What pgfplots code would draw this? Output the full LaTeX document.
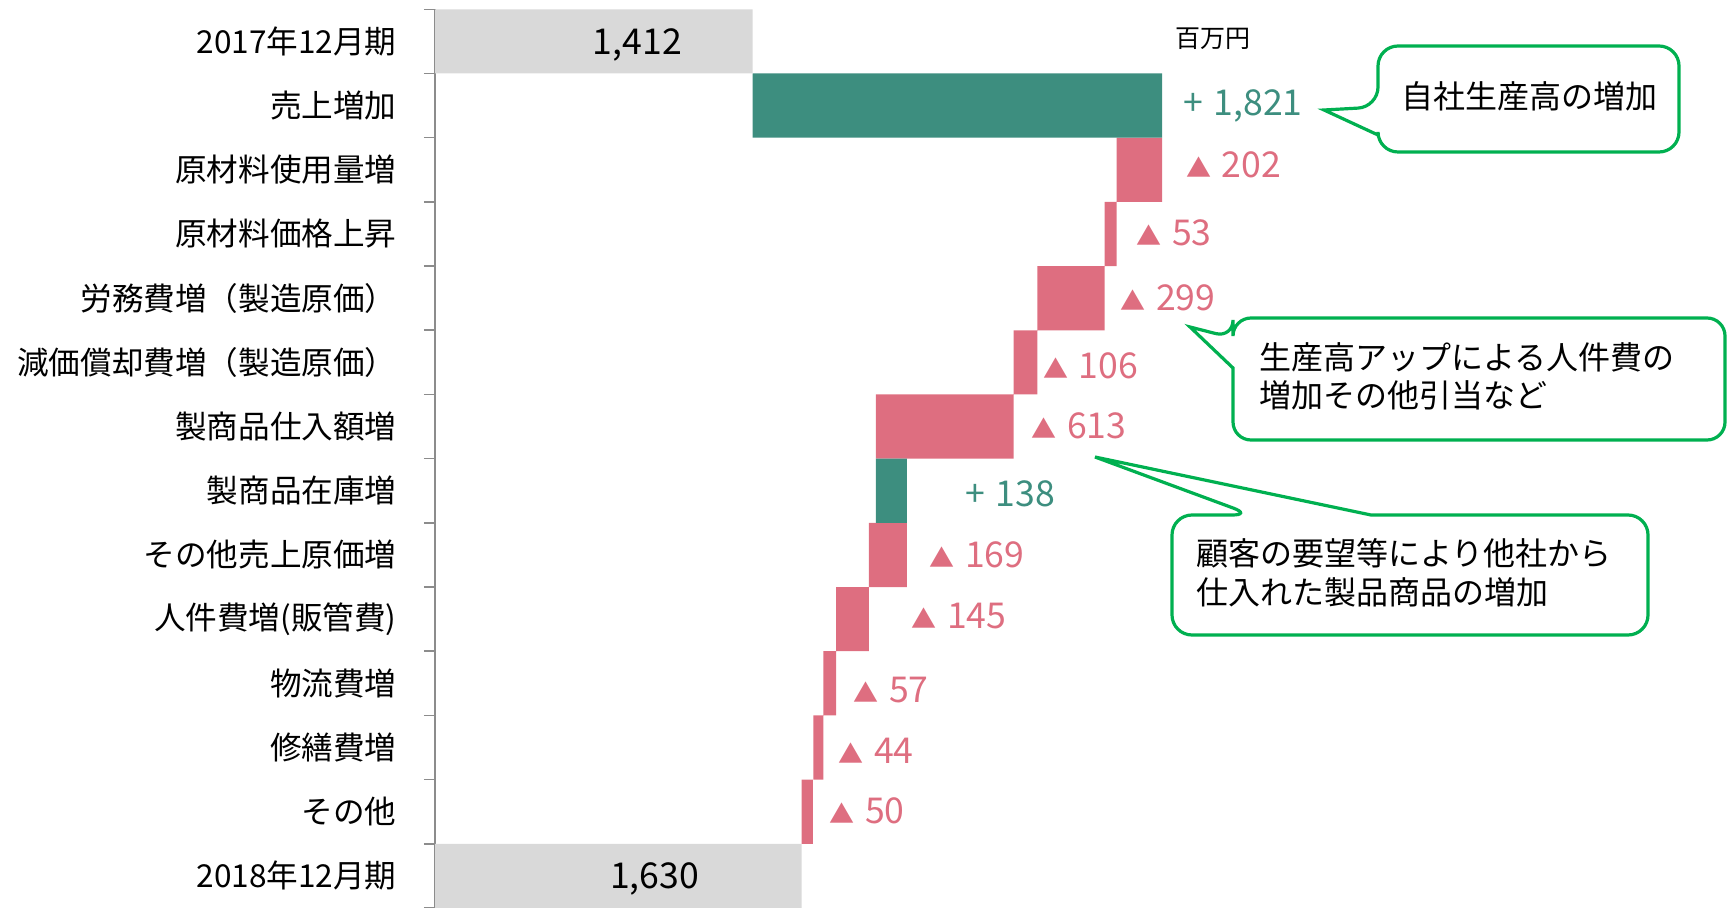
\documentclass[border=0pt]{standalone}
\usepackage{fontspec}
\setmainfont{Noto Sans CJK JP}
\usepackage{pgfplots}
\pgfplotsset{compat=1.18}
\usepackage{pgfplotstable}

\definecolor{upgreen}{HTML}{3D8E7F}
\definecolor{downpink}{HTML}{DE6E80}
\definecolor{totgray}{HTML}{D9D9D9}
\definecolor{callgreen}{HTML}{00B050}
\definecolor{axisgray}{HTML}{8C8C8C}

% small triangle used in the decrease labels
\newcommand\tri{{\fontsize{12.5pt}{12.5pt}\selectfont ▲}\hspace{0.3em}}

% waterfall: invisible base + visible part
\pgfplotstableread{
row base total up down
0 0 1412 0 0
1 1412 0 1821 0
2 3031 0 0 202
3 2978 0 0 53
4 2679 0 0 299
5 2573 0 0 106
6 1960 0 0 613
7 1960 0 138 0
8 1929 0 0 169
9 1784 0 0 145
10 1727 0 0 57
11 1683 0 0 44
12 1630 0 0 50
13 0 1630 0 0
}\bars

% label positions (x in data units, left edge of text)
\pgfplotstableread[col sep=semicolon]{
x;row;label
3339;1.93;\tri 202
3117;2.98;\tri 53
3046;4.0;\tri 299
2703;5.06;\tri 106
2650;5.99;\tri 613
2197;7.99;\tri 169
2117;8.95;\tri 145
1859;10.1;\tri 57
1792;11.05;\tri 44
1752;11.99;\tri 50
}\downlabels
\pgfplotstableread[col sep=semicolon]{
x;row;label
3326;1;+\hspace{0.3em}1,821
2357;7.05;+\hspace{0.3em}138
}\uplabels
\pgfplotstableread[col sep=semicolon]{
x;row;label
700;0.06;1,412
777;13.05;1,630
}\totlabels

\begin{document}
\begin{tikzpicture}
\useasboundingbox (0pt,0pt) rectangle (864.5pt,-454pt);

\begin{axis}[
    at={(217.5pt,-4.65pt)}, anchor=north west,
    scale only axis, width=647pt, height=449.35pt,
    xmin=0, xmax=5754, ymin=-0.5, ymax=13.5, y dir=reverse,
    xbar stacked, bar width=1,
    axis x line=none, axis y line*=left,
    axis line style={axisgray, line width=0.8pt},
    ytick={0,...,13},
    yticklabels={2017年12月期, 売上増加, 原材料使用量増, 原材料価格上昇,
        労務費増（製造原価）, 減価償却費増（製造原価）, 製商品仕入額増,
        製商品在庫増, その他売上原価増, 人件費増(販管費), 物流費増,
        修繕費増, その他, 2018年12月期},
    major tick length=0pt,
    minor ytick={-0.5,0.5,...,13.5},
    minor tick length=5.5pt, tick align=outside,
    minor tick style={axisgray, line width=0.8pt},
    yticklabel style={font=\fontsize{15.8pt}{18pt}\selectfont, inner sep=0pt, xshift=-19pt},
    clip=false,
]
\addplot[draw=none, fill=none] table[x=base, y=row] {\bars};
\addplot[draw=none, fill=totgray] table[x=total, y=row] {\bars};
\addplot[draw=none, fill=upgreen] table[x=up, y=row] {\bars};
\addplot[draw=none, fill=downpink] table[x=down, y=row] {\bars};
\end{axis}

\begin{axis}[
    at={(217.5pt,-4.65pt)}, anchor=north west,
    scale only axis, width=647pt, height=449.35pt,
    xmin=0, xmax=5754, ymin=-0.5, ymax=13.5, y dir=reverse,
    hide axis, clip=false,
    nodes near coords, point meta=explicit symbolic,
    nodes near coords align={anchor=west},
    every node near coord/.append style={anchor=west, inner sep=0pt,
        font=\fontsize{17.8pt}{20pt}\selectfont},
]
\addplot[draw=none, mark=none,
    every node near coord/.append style={text=downpink}]
    table[x=x, y=row, meta=label] {\downlabels};
\addplot[draw=none, mark=none,
    every node near coord/.append style={text=upgreen}]
    table[x=x, y=row, meta=label] {\uplabels};
\addplot[draw=none, mark=none,
    every node near coord/.append style={text=black}]
    table[x=x, y=row, meta=label] {\totlabels};
\end{axis}

% unit note and callouts, in pixel units of the reference
\begin{scope}[x=0.5pt, y=-0.5pt]
\node[anchor=west, inner sep=0pt, font=\fontsize{12.5pt}{15pt}\selectfont] at (1175,39) {百万円};

\draw[callgreen, line width=1.6pt, fill=white, rounded corners=10pt]
    (1530,46) -- (1378,46) -- (1378,107) [sharp corners] -- (1324,110) -- (1378,135)
    [rounded corners=10pt] -- (1378,152) -- (1679,152) -- (1679,46) -- cycle;
\node[anchor=west, inner sep=0pt, font=\fontsize{16pt}{19pt}\selectfont] at (1401,96) {自社生産高の増加};

\draw[callgreen, line width=1.6pt, fill=white, rounded corners=9pt]
    (1480,318) -- (1233,318) -- (1233,338) [sharp corners] -- (1190,327) -- (1233,368)
    [rounded corners=9pt] -- (1233,440) -- (1725,440) -- (1725,318) -- cycle;
\node[anchor=west, inner sep=0pt, font=\fontsize{16pt}{19pt}\selectfont] at (1259,357) {生産高アップによる人件費の};
\node[anchor=west, inner sep=0pt, font=\fontsize{16pt}{19pt}\selectfont] at (1259,395) {増加その他引当など};

\draw[callgreen, line width=1.6pt, fill=white, rounded corners=10pt]
    (1172,580) -- (1172,515) -- (1252,515) [sharp corners] -- (1095,457) -- (1371,515)
    [rounded corners=10pt] -- (1648,515) -- (1648,635) -- (1172,635) -- cycle;
\node[anchor=west, inner sep=0pt, font=\fontsize{16pt}{19pt}\selectfont] at (1196,553) {顧客の要望等により他社から};
\node[anchor=west, inner sep=0pt, font=\fontsize{16pt}{19pt}\selectfont] at (1196,592) {仕入れた製品商品の増加};
\end{scope}
\end{tikzpicture}
\end{document}
